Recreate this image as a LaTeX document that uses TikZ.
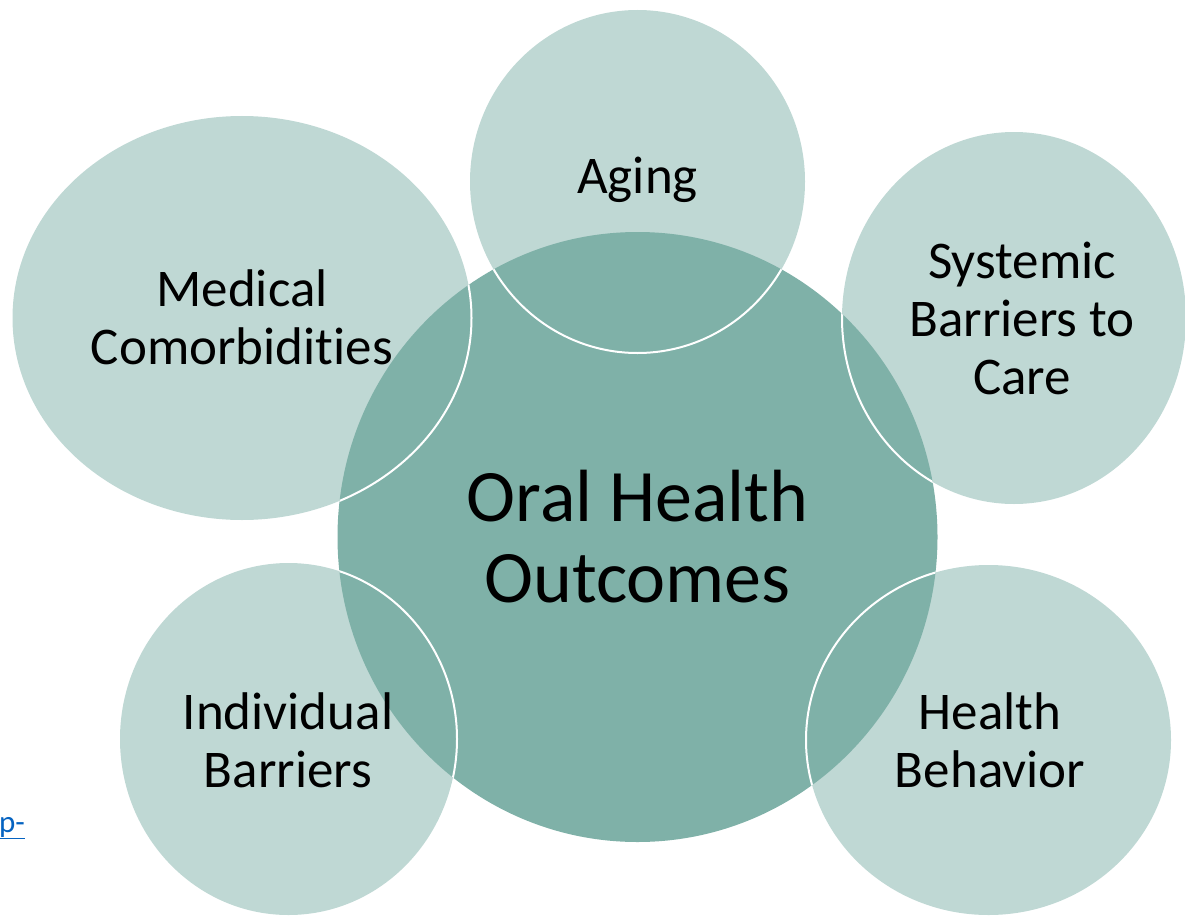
\documentclass[tikz,border=0pt]{standalone}
\usepackage{fontspec}
\setmainfont{Carlito}[Ligatures={NoCommon}]
\usetikzlibrary{shapes.geometric}
\definecolor{lightteal}{HTML}{BFD8D4}
\definecolor{darkteal}{HTML}{7FB1A8}
\definecolor{linkblue}{HTML}{0563C1}
\tikzset{
  outer/.style={ellipse, fill=lightteal, draw=none, inner sep=0pt},
  centre/.style={ellipse, fill=darkteal, draw=none, inner sep=0pt},
  rim/.style={draw=white, line width=2pt},
  smalltxt/.style={align=center, text=black, font=\fontsize{53}{58}\selectfont},
  bigtxt/.style={align=center, text=black, font=\fontsize{74}{81}\selectfont}
}
\begin{document}
\begin{tikzpicture}[x=1pt, y=-1pt]
\useasboundingbox (0,0) rectangle (1185,915);
\begin{scope}
\clip (0,0) rectangle (1185,915);
% outer shapes
\node[outer, minimum width=335pt, minimum height=343pt] (aging) at (637.5,181.5) {};
\node[outer, minimum width=459pt, minimum height=404pt] (med) at (242,318) {};
\node[outer, minimum width=344pt, minimum height=372pt] (sys) at (1014,318) {};
\node[outer, minimum width=337pt, minimum height=352pt] (ind) at (288.5,739) {};
\node[outer, minimum width=365pt, minimum height=350pt] (beh) at (988.5,740) {};
% central circle
\node[centre, minimum width=600pt, minimum height=610pt] (core) at (637.5,537) {};
% rims of the outer shapes, visible over the centre
\begin{scope}
\clip (637.5,537) ellipse [x radius=300, y radius=305];
\draw[rim] (aging.center) ellipse [x radius=167.5, y radius=171.5];
\draw[rim] (med.center) ellipse [x radius=229.5, y radius=202];
\draw[rim] (sys.center) ellipse [x radius=172, y radius=186];
\draw[rim] (ind.center) ellipse [x radius=168.5, y radius=176];
\draw[rim] (beh.center) ellipse [x radius=182.5, y radius=175];
\end{scope}
% texts
\node[smalltxt] (tAging) at (637.5,180) {Aging};
\node[smalltxt] (tMed) at (242,317) {Medical\\Comorbidities};
\node[smalltxt] (tSys) at (1022,318) {Systemic\\Barriers to\\Care};
\node[smalltxt] (tInd) at (288,740) {Individual\\Barriers};
\node[smalltxt] (tBeh) at (990,740) {Health\\Behavior};
\node[bigtxt] (tCore) at (core.center) {Oral Health\\Outcomes};
\node[anchor=base west, inner sep=0pt, text=linkblue, font=\fontsize{31}{34}\selectfont] (link) at (-1,832) {\underline{p-}};
\end{scope}
\end{tikzpicture}
\end{document}
